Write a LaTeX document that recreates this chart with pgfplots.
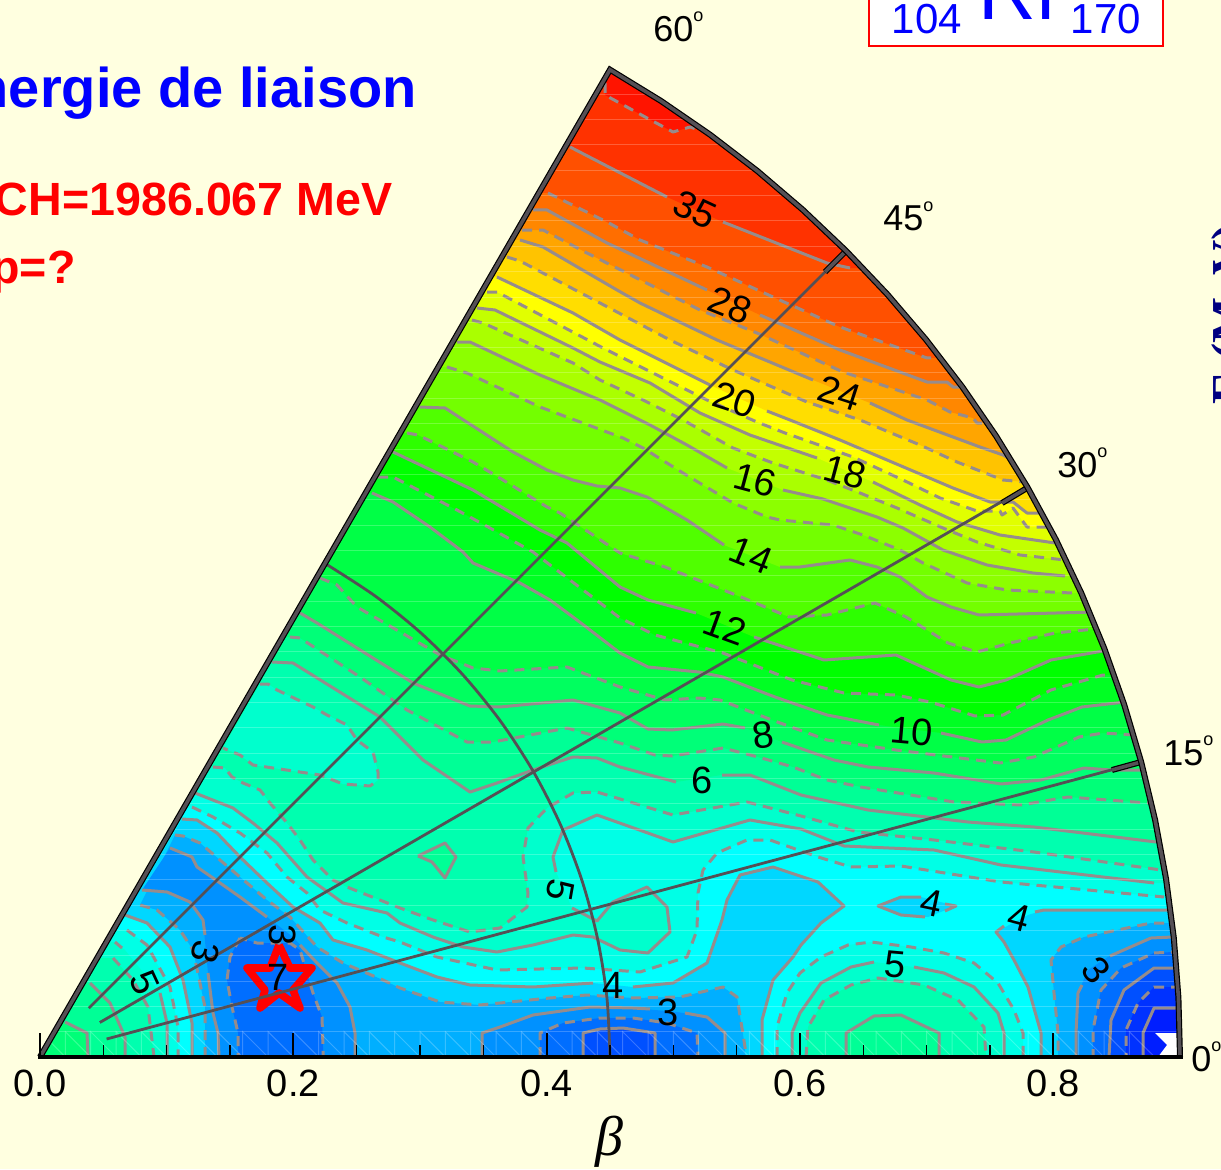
\documentclass[border=0pt]{standalone}
\usepackage{pgfplots}
\pgfplotsset{compat=1.18}
\usepackage{fontspec}
\setmainfont{Liberation Sans}
\newfontfamily\serifb{Liberation Serif}
\definecolor{bgc}{RGB}{255,255,224}
\definecolor{lc}{RGB}{150,140,140}
\definecolor{fr}{RGB}{85,80,85}
\definecolor{cz}{RGB}{0,30,255}
\definecolor{c1}{RGB}{0,50,255}
\definecolor{cpa}{RGB}{0,80,255}
\definecolor{c2}{RGB}{0,110,255}
\definecolor{cpb}{RGB}{0,145,255}
\definecolor{c3}{RGB}{0,175,255}
\definecolor{cpc}{RGB}{0,215,255}
\definecolor{c4}{RGB}{0,255,255}
\definecolor{cpd}{RGB}{0,255,230}
\definecolor{c5}{RGB}{0,255,205}
\definecolor{cpe}{RGB}{0,255,175}
\definecolor{c6}{RGB}{0,255,150}
\definecolor{c7}{RGB}{0,255,120}
\definecolor{c8}{RGB}{0,255,95}
\definecolor{c9}{RGB}{0,255,70}
\definecolor{c10}{RGB}{0,255,35}
\definecolor{c11}{RGB}{0,255,0}
\definecolor{c12}{RGB}{45,255,0}
\definecolor{c13}{RGB}{80,255,0}
\definecolor{c14}{RGB}{115,255,0}
\definecolor{c15}{RGB}{140,255,0}
\definecolor{c16}{RGB}{170,255,0}
\definecolor{c17}{RGB}{195,255,0}
\definecolor{c18}{RGB}{225,255,0}
\definecolor{c19}{RGB}{255,255,0}
\definecolor{c20}{RGB}{255,222,0}
\definecolor{c22}{RGB}{255,195,0}
\definecolor{c24}{RGB}{255,165,0}
\definecolor{c26}{RGB}{255,135,0}
\definecolor{c28}{RGB}{255,110,0}
\definecolor{c30}{RGB}{255,80,0}
\definecolor{c35}{RGB}{255,50,0}
\definecolor{c40}{RGB}{255,20,0}
\pgfplotsset{cl/.style={color=lc,line width=1.5pt,line join=round,forget plot},
 cd/.style={cl,dash pattern=on 5pt off 3.5pt}}
% fill only
\newcommand\CF[2]{\addplot[fill=#1,draw=none,forget plot] coordinates {#2};}
\newcommand\CS[1]{\addplot[cl] coordinates {#1};}
\newcommand\CD[1]{\addplot[cd] coordinates {#1};}
% region above a contour that runs from the left edge to the right edge
\newcommand\Up[5]{\addplot[fill=#1,draw=none,forget plot] coordinates {(0,#3) #4 (1300,#5) (1300,-100) (0,-100)};
 \addplot[#2] coordinates {#4};}
\newcommand\UpG[6]{\addplot[fill=#1,draw=none,forget plot] coordinates {(0,#3) #4 #5 (1300,#6) (1300,-100) (0,-100)};
 \addplot[#2] coordinates {#4}; \addplot[#2] coordinates {#5};}
% region in the left corner
\newcommand\Cor[4]{\addplot[fill=#1,draw=none,forget plot] coordinates {(0,#3) #4 (0,1057)};
 \addplot[#2] coordinates {#4};}
% closed region resting on the axis or elsewhere
\newcommand\Is[3]{\addplot[fill=#1,draw=none,forget plot] coordinates {#3};
 \addplot[#2] coordinates {#3};}
\newcommand\Lab[4]{\addplot[draw=none,forget plot] coordinates {(#1,#2)(#1,#2)} node[pos=0,#3]{#4};}
\newcommand\dg{\raisebox{10pt}{\fontsize{9}{9}\selectfont o}}
\begin{document}
\begin{tikzpicture}
\useasboundingbox (0,0) rectangle (610.5pt,584.5pt);
\begin{axis}[at={(0,0)},anchor=south west,scale only axis,width=610.5pt,height=584.5pt,
 xmin=-0.031579,xmax=0.93237,ymin=-0.088421,ymax=0.83447,
 axis background/.style={fill=bgc},
 x filter/.code={\pgfmathparse{(#1-40)/1266.67}\pgfmathresult},
 y filter/.code={\pgfmathparse{(1057-#1)/1266.67}\pgfmathresult},
 axis x line=middle,axis y line=none,hide obscured x ticks=false,
 axis line style={draw=none},axis on top,
 xtick={0,0.2,0.4,0.6,0.8},xticklabels={0.0,0.2,0.4,0.6,0.8},
 minor xtick={0.05,0.1,0.15,0.25,0.3,0.35,0.45,0.5,0.55,0.65,0.7,0.75},
 tick align=inside,major tick length=12pt,minor tick length=6pt,
 x tick style={black,line width=1pt},minor x tick style={black,line width=0.7pt},
 xticklabel style={font=\fontsize{19}{19}\selectfont,yshift=-3pt,black},
 clip=true]
% base level and the regions above it
\CF{c4}{(0,1057)(1300,1057)(1300,-100)(0,-100)}
\Up{cpd}{cd}{807}{(192,807)(213,817)(240,833)(267,853)(287,877)(307,893)(320,910)(347,923)(383,937)(400,942)(437,957)(497,970)(583,968)(640,972)(687,957)(697,930)(698,893)(703,870)(717,853)(747,840)(770,840)(818,857)(851,867)(901,866)(1001,882)(1164,897)}{897}
\Cor{cpd}{cd}{930}{(127,930)(147,945)(170,987)(178,1027)(178,1057)}
\Is{cpd}{cd}{(777,1057)(777,1027)(787,993)(800,973)(821,957)(848,945)(871,942)(911,947)(944,953)(974,963)(998,983)(1014,1010)(1023,1033)(1023,1057)}
\UpG{c5}{cl}{793}{(195,793)(233,808)(253,823)(277,843)(307,877)(343,903)(387,913)(400,923)(433,937)(463,947)(497,952)(533,945)(573,935)(593,937)(620,950)(648,953)(670,932)(667,907)(647,887)(613,902)(597,921)(572,908)}{(556,872)(553,857)(563,830)(597,815)(645,832)(673,842)(750,820)(801,829)(844,846)(934,850)(1001,865)(1154,883)}{883}
\CF{c5}{(0,942)(115,942)(125,950)(160,993)(167,1023)(167,1057)(0,1057)}
\CS{(115,942)(122,948)}
\CS{(160,993)(167,1023)(167,1057)}
\CF{c5}{(792,1057)(792,1033)(800,1013)(821,983)(851,967)(874,962)(914,967)(944,973)(974,987)(998,1013)(1004,1033)(1004,1057)}
\CS{(792,1057)(792,1033)(800,1013)(821,983)(851,967)(874,962)}
\CS{(914,967)(944,973)(974,987)(998,1013)(1004,1033)(1004,1057)}
\Up{cpe}{cd}{767}{(213,767)(225,768)(232,777)(243,783)(260,790)(270,803)(287,823)(300,840)(313,860)(333,880)(347,887)(400,908)(433,920)(470,932)(500,928)(527,907)(528,893)(523,857)(528,828)(547,808)(573,793)(597,792)(673,815)(747,802)(801,816)(858,832)(934,840)(1034,852)(1161,870)}{870}
\Cor{cpe}{cd}{958}{(113,958)(133,980)(148,1007)(154,1057)}
\Is{cpe}{cd}{(806,1057)(808,1027)(824,1000)(851,985)(878,978)(924,985)(958,1000)(984,1027)(986,1057)}
\Is{c5}{cd}{(260,684)(268,684)(277,690)(313,707)(327,715)(347,725)(357,740)(373,752)(378,772)(378,780)(370,786)(343,784)(320,775)(253,765)(240,755)(223,748)}
\UpG{c6}{cl}{662}{(272,662)(293,663)(380,717)(423,760)(470,792)(497,783)(533,770)(573,757)(597,758)(620,767)(676,782)}{(722,775)(750,775)(801,795)(868,810)(968,822)(1034,827)(1156,842)}{842}
\Cor{c6}{cl}{983}{(90,983)(110,1003)(125,1037)(125,1057)}
\Is{c6}{cl}{(846,1057)(846,1033)(874,1016)(901,1015)(939,1033)(939,1057)}
\Is{c6}{cl}{(418,856)(445,843)(456,857)(445,878)(432,862)(418,856)}
\Up{c7}{cd}{637}{(290,637)(300,638)(360,677)(407,710)(467,742)(493,742)(567,728)(620,743)(655,755)(672,756)(723,748)(758,757)(793,767)(827,780)(861,787)(954,802)(1021,805)(1068,797)(1148,803)}{803}
\Cor{c7}{cl}{1022}{(65,1022)(87,1033)(88,1057)}
\UpG{c8}{cl}{613}{(300,613)(317,623)(413,683)(470,706)(500,707)(573,700)(620,713)(648,729)(672,730)(723,724)(745,728)}{(782,742)(834,760)(868,767)(934,773)(1001,784)(1041,780)(1084,768)(1111,770)(1150,770)}{770}
\Up{c9}{cd}{578}{(320,578)(337,585)(357,607)(440,655)(473,668)(500,671)(567,667)(620,687)(665,700)(699,698)(720,700)(772,720)(827,740)(896,750)(1000,763)(1034,757)(1079,737)(1103,733)(1135,735)}{735}
\UpG{c10}{cl}{493}{(372,493)(393,502)(430,527)(463,552)(473,563)(520,583)(550,600)(577,620)(620,653)(648,667)(699,672)(723,677)(775,697)(827,715)(879,725)}{(941,733)(982,742)(1006,740)(1048,720)(1082,707)(1125,702)}{702}
\Up{c11}{cd}{477}{(378,477)(393,477)(457,510)(490,528)(533,552)(620,618)(655,635)(723,653)(792,680)(844,693)(896,695)(930,702)(975,716)(1003,715)(1051,690)(1103,675)(1125,675)}{675}
\UpG{c12}{cl}{452}{(393,452)(473,490)(540,530)(567,543)(620,587)(648,600)(696,613)}{(754,637)(824,660)(896,655)(951,680)(979,687)(1006,680)(1051,660)(1103,651)(1120,650)}{650}
\Up{c13}{cd}{433}{(407,433)(418,435)(473,462)(503,480)(547,507)(560,513)(620,553)(665,567)(741,597)(789,617)(827,615)(875,603)(906,617)(948,643)(977,652)(1010,643)(1055,633)(1095,629)(1110,629)}{629}
\UpG{c14}{cl}{407}{(420,407)(445,408)(513,452)(547,470)(573,480)(597,486)(620,488)(647,497)(687,520)(724,545)}{(780,567)(800,567)(850,560)(877,567)(900,577)(927,597)(951,607)(979,615)(1095,612)}{612}
\Up{c15}{cd}{367}{(447,367)(467,373)(540,407)(623,438)(643,448)(683,473)(733,503)(767,517)(780,520)(833,525)(863,535)(900,550)(923,563)(967,583)(1007,590)(1072,593)}{593}
\UpG{c16}{cl}{342}{(457,342)(470,342)(540,375)(600,400)(650,425)(687,445)(727,468)}{(783,490)(823,499)(877,517)(903,528)(943,550)(987,565)(1033,573)(1065,576)}{576}
\Up{c17}{cd}{320}{(472,320)(483,323)(573,363)(600,380)(643,400)(683,420)(733,448)(773,463)(827,480)(860,493)(897,508)(943,528)(977,542)(1020,555)(1065,560)}{560}
\UpG{c18}{cl}{308}{(477,308)(495,310)(573,348)(600,362)(650,383)(700,413)(750,435)(817,458)}{(873,482)(920,505)(957,522)(1000,535)(1055,543)}{543}
\Up{c19}{cd}{292}{(487,292)(497,292)(603,348)(657,375)(707,400)(757,422)(785,433)(853,457)(903,480)(940,498)(977,511)(1000,511)(1002,515)(1013,508)(1027,527)(1050,527)}{527}
\UpG{c20}{cl}{277}{(497,277)(573,313)(620,340)(660,360)(710,385)}{(767,411)(790,420)(840,440)(880,457)(953,488)(990,502)(1013,502)(1027,513)(1042,513)}{513}
\Up{c22}{cd}{257}{(507,257)(520,261)(600,303)(670,340)(733,370)(807,402)(860,420)(920,445)(957,462)(1003,480)(1025,482)}{482}
\UpG{c24}{cl}{240}{(520,240)(543,247)(617,290)(640,303)(717,340)(813,380)}{(870,403)(907,420)(980,447)(1003,455)(1012,460)}{460}
\Up{c26}{cd}{230}{(522,230)(543,230)(587,253)(700,310)(757,333)(843,372)(927,400)(950,412)(973,418)(977,423)(990,423)}{423}
\UpG{c28}{cl}{210}{(533,210)(547,210)(607,243)(707,290)}{(760,315)(840,350)(927,382)(947,382)(953,387)(965,387)}{387}
\Up{c30}{cd}{193}{(548,193)(607,222)(640,240)(707,267)(773,297)(840,327)(927,358)(945,358)}{358}
\UpG{c35}{cl}{147}{(570,147)(667,197)}{(723,222)(827,263)(850,268)}{268}
\Up{c40}{cd}{83}{(605,83)(605,95)(647,118)(673,132)(690,127)(715,135)}{135}
% regions below the base level
\CF{cpc}{(182,819)(197,820)(217,833)(240,857)(267,883)(293,907)(320,923)(333,940)(367,950)(400,963)(437,977)(470,985)(533,987)(593,983)(633,987)(673,983)(707,963)(722,920)(727,900)(740,875)(773,867)(818,882)(844,906)(821,923)(801,945)(793,957)(773,980)(762,1020)(762,1057)(192,1057)(192,1023)(183,980)(170,947)(147,923)(125,915)}
\CS{(182,819)(197,820)(217,833)(240,857)(267,883)(293,907)(320,923)(333,940)(367,950)(400,963)(437,977)(470,985)(533,987)(593,983)}
\CS{(633,987)(673,983)(707,963)(722,920)(727,900)(740,875)(773,867)(818,882)(844,906)(821,923)(801,945)(793,957)(773,980)(762,1020)(762,1057)}
\CS{(192,1057)(192,1023)(183,980)(170,947)(147,923)(125,915)}
\CF{cpc}{(878,906)(901,897)(921,897)(956,906)(928,917)(901,915)}
\CS{(945,904)(956,906)(945,911)}
\CS{(925,917)(901,915)(878,906)(901,897)(921,897)}
\CF{cpc}{(1300,910)(1168,910)(1044,910)(1028,915)(996,932)(1004,942)(1014,960)(1028,987)(1041,1033)(1041,1057)(1300,1057)}
\CS{(1168,910)(1044,910)(1035,912)}
\CS{(1004,926)(996,932)(1004,942)(1014,960)(1028,987)(1041,1033)(1041,1057)}
\CF{c3}{(175,835)(183,836)(200,843)(220,860)(240,877)(267,900)(290,917)(317,947)(343,963)(383,980)(400,988)(440,1002)(480,1005)(550,998)(587,995)(633,998)(680,997)(723,987)(737,997)(745,1047)(745,1057)(205,1057)(205,1007)(193,950)(180,930)(157,910)(140,905)}
\CD{(175,835)(183,836)(200,843)(220,860)(240,877)(267,900)(290,917)(317,947)(343,963)(383,980)(400,988)(440,1002)(480,1005)(550,998)(587,995)(633,998)(680,997)(723,987)(737,997)(745,1047)(745,1057)}
\CD{(205,1057)(205,1007)(193,950)(180,930)(157,910)(140,905)}
\Is{c3}{cd}{(1300,923)(1169,923)(1151,923)(1084,937)(1061,947)(1051,960)(1054,993)(1058,1033)(1058,1057)(1300,1057)}
\CF{cpb}{(170,848)(192,857)(197,867)(213,878)(240,897)(267,917)(293,937)(317,963)(337,983)(350,1007)(355,1033)(355,1057)(219,1057)(218,1033)(213,1013)(208,973)(203,920)(190,902)(167,892)(142,890)}
\CS{(170,848)(192,857)(197,867)(213,878)(240,897)(267,917)}
\CS{(300,945)(317,963)(337,983)(350,1007)(355,1033)(355,1057)}
\CS{(219,1057)(218,1033)(213,1013)(208,973)}
\CS{(205,935)(203,920)(190,902)(167,892)(142,890)}
\CF{cpb}{(482,1057)(482,1033)(500,1027)(533,1015)(590,1007)(633,1008)(677,1012)(707,1017)(725,1033)(725,1057)}
\CS{(482,1057)(482,1033)(500,1027)(533,1015)(590,1007)(633,1008)(650,1009)}
\CS{(685,1013)(707,1017)(725,1033)(725,1057)}
\CF{cpb}{(1300,937)(1173,937)(1151,938)(1108,957)(1088,970)(1078,993)(1076,1033)(1076,1057)(1300,1057)}
\CS{(1173,937)(1151,938)(1110,956)}
\CS{(1082,985)(1078,993)(1076,1033)(1076,1057)}
\Is{c2}{cd}{(240,938)(230,957)(227,980)(232,1007)(238,1033)(238,1057)(323,1057)(323,1047)(322,1017)(313,993)(300,950)(290,943)(257,943)(240,938)}
\Is{c2}{cd}{(540,1057)(540,1033)(563,1023)(600,1018)(633,1018)(667,1023)(697,1033)(698,1057)}
\Is{c2}{cd}{(1300,952)(1173,952)(1154,953)(1121,968)(1101,990)(1093,1030)(1093,1057)(1300,1057)}
\Is{cpa}{cl}{(583,1057)(583,1033)(600,1029)(623,1028)(655,1033)(655,1057)}
\Is{cpa}{cl}{(1300,968)(1175,968)(1154,968)(1124,990)(1111,1020)(1109,1057)(1300,1057)}
\Is{c1}{cd}{(1300,987)(1175,987)(1154,987)(1138,1003)(1126,1030)(1126,1057)(1300,1057)}
\Is{cz}{cl}{(1300,1008)(1176,1008)(1154,1008)(1143,1033)(1143,1057)(1300,1057)}
\CF{white}{(1155,1033)(1300,1033)(1300,1057)(1158,1057)(1167,1045)}
% thin lines of the drawing mesh
\pgfplotsinvokeforeach{1031.7,1006.3,981,955.7,930.3,905,879.7,854.3,829,803.7,778.3,753,727.7,702.3,677,651.7,626.3,601,575.7,550.3,525,499.7,474.3,449,423.7,398.3,373,347.7,322.3,297,271.7,246.3,221,195.7,170.3,145,119.7,94.3}{
 \addplot[white,opacity=0.22,line width=0.5pt,forget plot] coordinates {(0,#1)(1300,#1)};}
\addplot[white,opacity=0.22,line width=0.5pt,forget plot] coordinates {(40,1031.7)(65.3,1057)(65.3,1031.7)(90.7,1057)(90.7,1031.7)(116,1057)(116,1031.7)(141.3,1057)(141.3,1031.7)(166.7,1057)(166.7,1031.7)(192,1057)(192,1031.7)(217.3,1057)(217.3,1031.7)(242.7,1057)(242.7,1031.7)(268,1057)(268,1031.7)(293.3,1057)(293.3,1031.7)(318.7,1057)(318.7,1031.7)(344,1057)(344,1031.7)(369.3,1057)(369.3,1031.7)(394.7,1057)(394.7,1031.7)(420,1057)(420,1031.7)(445.3,1057)(445.3,1031.7)(470.7,1057)(470.7,1031.7)(496,1057)(496,1031.7)(521.3,1057)(521.3,1031.7)(546.7,1057)(546.7,1031.7)(572,1057)(572,1031.7)(597.3,1057)(597.3,1031.7)(622.7,1057)(622.7,1031.7)(648,1057)(648,1031.7)(673.3,1057)(673.3,1031.7)(698.7,1057)(698.7,1031.7)(724,1057)(724,1031.7)(749.3,1057)(749.3,1031.7)(774.7,1057)(774.7,1031.7)(800,1057)(800,1031.7)(825.3,1057)(825.3,1031.7)(850.7,1057)(850.7,1031.7)(876,1057)(876,1031.7)(901.3,1057)(901.3,1031.7)(926.7,1057)(926.7,1031.7)(952,1057)(952,1031.7)(977.3,1057)(977.3,1031.7)(1002.7,1057)(1002.7,1031.7)(1028,1057)(1028,1031.7)(1053.3,1057)(1053.3,1031.7)(1078.7,1057)(1078.7,1031.7)(1104,1057)(1104,1031.7)(1129.3,1057)(1129.3,1031.7)(1154.7,1057)};
% everything outside the sector
\CF{bgc}{(1180,1057)(1178.4,997.3)(1173.8,937.8)(1166,878.7)(1155.1,820)(1141.2,762)(1124.2,704.7)(1104.3,648.5)(1081.4,593.3)(1055.8,539.5)(1027.3,487)(996.1,436.1)(962.3,386.9)(926,339.6)(887.2,294.2)(846.1,250.9)(802.8,209.8)(757.4,171)(710.1,134.7)(660.9,100.9)(610,69.7)(40,1057)(40,1061)(-50,1061)(-50,-100)(1300,-100)(1300,1061)(1180,1061)}
% star
\addplot[red,line width=3.8pt,line join=round,forget plot] coordinates {(279,945)(290,968)(312,968)(293,990)(300,1008)(279,993)(260,1008)(265,990)(247,968)(270,968)(279,945)};
% grid of the sector
\addplot[fr,line width=1.4pt,smooth,forget plot] coordinates {(610,1057)(606.9,997.4)(597.5,938.5)(582.1,880.9)(560.7,825.2)(533.6,772)(501.1,722)(463.6,675.6)(421.4,633.4)(375,595.9)(325,563.4)};
\addplot[fr,line width=1.4pt,forget plot] coordinates {(106.6,1039)(1141,762)};
\addplot[fr,line width=1.4pt,forget plot] coordinates {(99.8,1022.5)(1027,487)};
\addplot[fr,line width=1.4pt,forget plot] coordinates {(88.8,1008.2)(846,251)};
\addplot[black,line width=3pt,forget plot] coordinates {(1112,770)(1141,762)};
\addplot[black,line width=3pt,forget plot] coordinates {(1002,503)(1027,488)};
\addplot[black,line width=3pt,forget plot] coordinates {(825,272)(846,251)};
\addplot[fr,line width=1.8pt,forget plot] coordinates {(1112,770)(1141,762)};
\addplot[fr,line width=1.8pt,forget plot] coordinates {(1002,503)(1027,488)};
\addplot[fr,line width=1.8pt,forget plot] coordinates {(825,272)(846,251)};
% frame
\addplot[black,line width=3pt,line join=miter,forget plot] coordinates {(1180,1057)(1178.4,997.3)(1173.8,937.8)(1166,878.7)(1155.1,820)(1141.2,762)(1124.2,704.7)(1104.3,648.5)(1081.4,593.3)(1055.8,539.5)(1027.3,487)(996.1,436.1)(962.3,386.9)(926,339.6)(887.2,294.2)(846.1,250.9)(802.8,209.8)(757.4,171)(710.1,134.7)(660.9,100.9)(610,69.7)(40,1057)};
\addplot[fr,line width=1.8pt,line join=miter,forget plot] coordinates {(1180,1057)(1178.4,997.3)(1173.8,937.8)(1166,878.7)(1155.1,820)(1141.2,762)(1124.2,704.7)(1104.3,648.5)(1081.4,593.3)(1055.8,539.5)(1027.3,487)(996.1,436.1)(962.3,386.9)(926,339.6)(887.2,294.2)(846.1,250.9)(802.8,209.8)(757.4,171)(710.1,134.7)(660.9,100.9)(610,69.7)(40,1057)};
\addplot[black,line width=2pt,forget plot] coordinates {(38,1057)(1183,1057)};
% box of the nucleus
\addplot[fill=white,draw=red,line width=0.6pt,forget plot] coordinates {(869,-20)(1163,-20)(1163,46)(869,46)(869,-20)};
% contour labels
\def\lf{\fontsize{19}{19}\selectfont}
\Lab{695}{210}{rotate=-25,font=\lf}{35}
\Lab{730}{305}{rotate=-22,font=\lf}{28}
\Lab{840}{393}{rotate=-18,font=\lf}{24}
\Lab{735}{400}{rotate=-18,font=\lf}{20}
\Lab{845}{472}{rotate=-15,font=\lf}{18}
\Lab{755}{480}{rotate=-15,font=\lf}{16}
\Lab{751}{555}{rotate=-22,font=\lf}{14}
\Lab{725}{627}{rotate=-20,font=\lf}{12}
\Lab{912}{731}{rotate=-5,font=\lf}{10}
\Lab{763}{735}{rotate=8,font=\lf}{8}
\Lab{702}{780}{font=\lf}{6}
\Lab{895}{965}{rotate=-5,font=\lf}{5}
\Lab{932}{903}{rotate=-12,font=\lf}{4}
\Lab{1019}{918}{rotate=-15,font=\lf}{4}
\Lab{1096}{970}{rotate=-50,font=\lf}{3}
\Lab{560}{890}{rotate=-100,font=\lf}{5}
\Lab{613}{985}{font=\lf}{4}
\Lab{668}{1012}{font=\lf}{3}
\Lab{145}{983}{rotate=-65,font=\lf}{5}
\Lab{205}{952}{rotate=-105,font=\lf}{3}
\Lab{283}{935}{rotate=-90,font=\lf}{3}
\Lab{278}{977}{font=\lf}{7}
% angle labels
\def\af{\fontsize{18}{18}\selectfont}
\Lab{653}{42}{anchor=base west,font=\af,inner sep=0pt}{60\dg}
\Lab{883}{231}{anchor=base west,font=\af,inner sep=0pt}{45\dg}
\Lab{1057}{477}{anchor=base west,font=\af,inner sep=0pt}{30\dg}
\Lab{1163}{765}{anchor=base west,font=\af,inner sep=0pt}{15\dg}
\Lab{1191}{1071}{anchor=base west,font=\af,inner sep=0pt}{0\dg}
% titles
\Lab{417}{108}{anchor=base east,inner sep=0pt,text=blue,font=\fontsize{28}{28}\selectfont\bfseries}{Énergie de liaison}
\Lab{393}{215}{anchor=base east,inner sep=0pt,text=red,font=\fontsize{23.3}{23.3}\selectfont\bfseries}{CH=1986.067 MeV}
\Lab{76}{283}{anchor=base east,inner sep=0pt,text=red,font=\fontsize{23.3}{23.3}\selectfont\bfseries}{p=?}
\Lab{927}{34}{anchor=base,inner sep=0pt,text=blue,font=\fontsize{21}{21}\selectfont}{104}
\Lab{1106}{34}{anchor=base,inner sep=0pt,text=blue,font=\fontsize{21}{21}\selectfont}{170}
\Lab{1018}{19}{anchor=base,inner sep=0pt,text=blue,font=\fontsize{40}{40}\selectfont}{Rf}
\Lab{1245}{405}{anchor=base west,rotate=90,inner sep=0pt,text={rgb,255:red,0;green,0;blue,128},font=\fontsize{24.4}{24.4}\selectfont\serifb\bfseries}{E (MeV)}
\Lab{609}{1142}{inner sep=0pt,font=\fontsize{28}{28}\selectfont\serifb\itshape}{β}
\end{axis}
\end{tikzpicture}
\end{document}
